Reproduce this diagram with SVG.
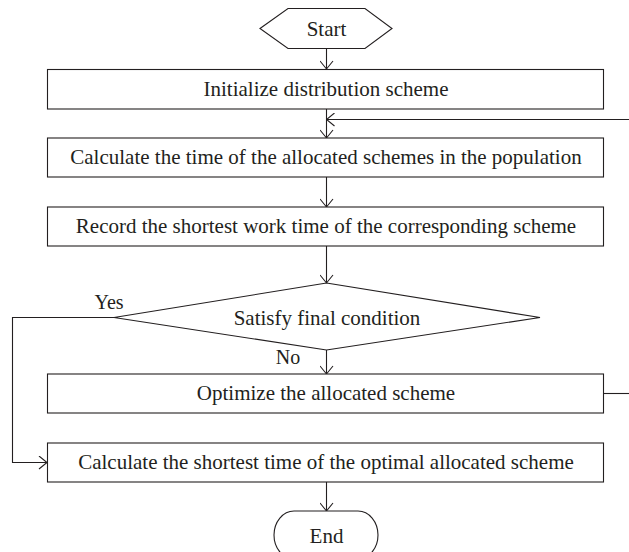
<svg xmlns="http://www.w3.org/2000/svg" width="629" height="552" viewBox="0 0 629 552">
<defs>
<style>
.shape{fill:#fff;stroke:#231f20;stroke-width:1.1}
.line{fill:none;stroke:#231f20;stroke-width:1.1}
.t{font-family:"Liberation Serif","Times New Roman",serif;font-size:21px;fill:#231f20;text-anchor:middle}
</style>
<marker id="arr" viewBox="0 0 10 14" refX="9" refY="7" markerWidth="10" markerHeight="14" markerUnits="userSpaceOnUse" orient="auto">
<path d="M1,0.5 L9,7 L1,13.5" fill="none" stroke="#231f20" stroke-width="1.1"/>
</marker>
</defs>
<rect width="629" height="552" fill="#fff"/>
<g id="connectors">
<line class="line" x1="326.5" y1="49" x2="326.5" y2="69" marker-end="url(#arr)"/>
<line class="line" x1="326.5" y1="109" x2="326.5" y2="138" marker-end="url(#arr)"/>
<line class="line" x1="629" y1="119.5" x2="326.5" y2="119.5" marker-end="url(#arr)"/>
<line class="line" x1="326.5" y1="177" x2="326.5" y2="207" marker-end="url(#arr)"/>
<line class="line" x1="326.5" y1="246" x2="326.5" y2="283" marker-end="url(#arr)"/>
<line class="line" x1="326.5" y1="350" x2="326.5" y2="374" marker-end="url(#arr)"/>
<line class="line" x1="604" y1="393.5" x2="629" y2="393.5"/>
<polyline class="line" points="114,317.5 12.5,317.5 12.5,462.5 47,462.5" marker-end="url(#arr)"/>
<line class="line" x1="326.5" y1="482" x2="326.5" y2="511" marker-end="url(#arr)"/>
<text class="t" x="109" y="309" style="font-size:20px">Yes</text>
<text class="t" x="288" y="364" style="font-size:20px">No</text>
</g>
<g id="start">
<polygon class="shape" points="260,28.5 288,8.5 365,8.5 392,28.5 365,48.5 288,48.5"/>
<text class="t" x="326.5" y="36">Start</text>
</g>
<g id="init">
<rect class="shape" x="47.5" y="69.5" width="556" height="39.5"/>
<text class="t" x="326" y="96">Initialize distribution scheme</text>
</g>
<g id="calc">
<rect class="shape" x="47.5" y="138" width="556" height="39"/>
<text class="t" x="326" y="164">Calculate the time of the allocated schemes in the population</text>
</g>
<g id="record">
<rect class="shape" x="47.5" y="207" width="556" height="39"/>
<text class="t" x="326" y="233">Record the shortest work time of the corresponding scheme</text>
</g>
<g id="decision">
<polygon class="shape" points="326.5,283 540,317.5 326.5,350 114,317.5"/>
<text class="t" x="327" y="324.5">Satisfy final condition</text>
</g>
<g id="optimize">
<rect class="shape" x="47.5" y="374" width="556" height="39"/>
<text class="t" x="326" y="400">Optimize the allocated scheme</text>
</g>
<g id="final">
<rect class="shape" x="47.5" y="443" width="556" height="39"/>
<text class="t" x="326" y="469">Calculate the shortest time of the optimal allocated scheme</text>
</g>
<g id="end">
<path class="shape" d="M294,511 H358 A20,24 0 0 1 358,559 H294 A20,24 0 0 1 294,511 Z"/>
<text class="t" x="326.5" y="543">End</text>
</g>
</svg>
